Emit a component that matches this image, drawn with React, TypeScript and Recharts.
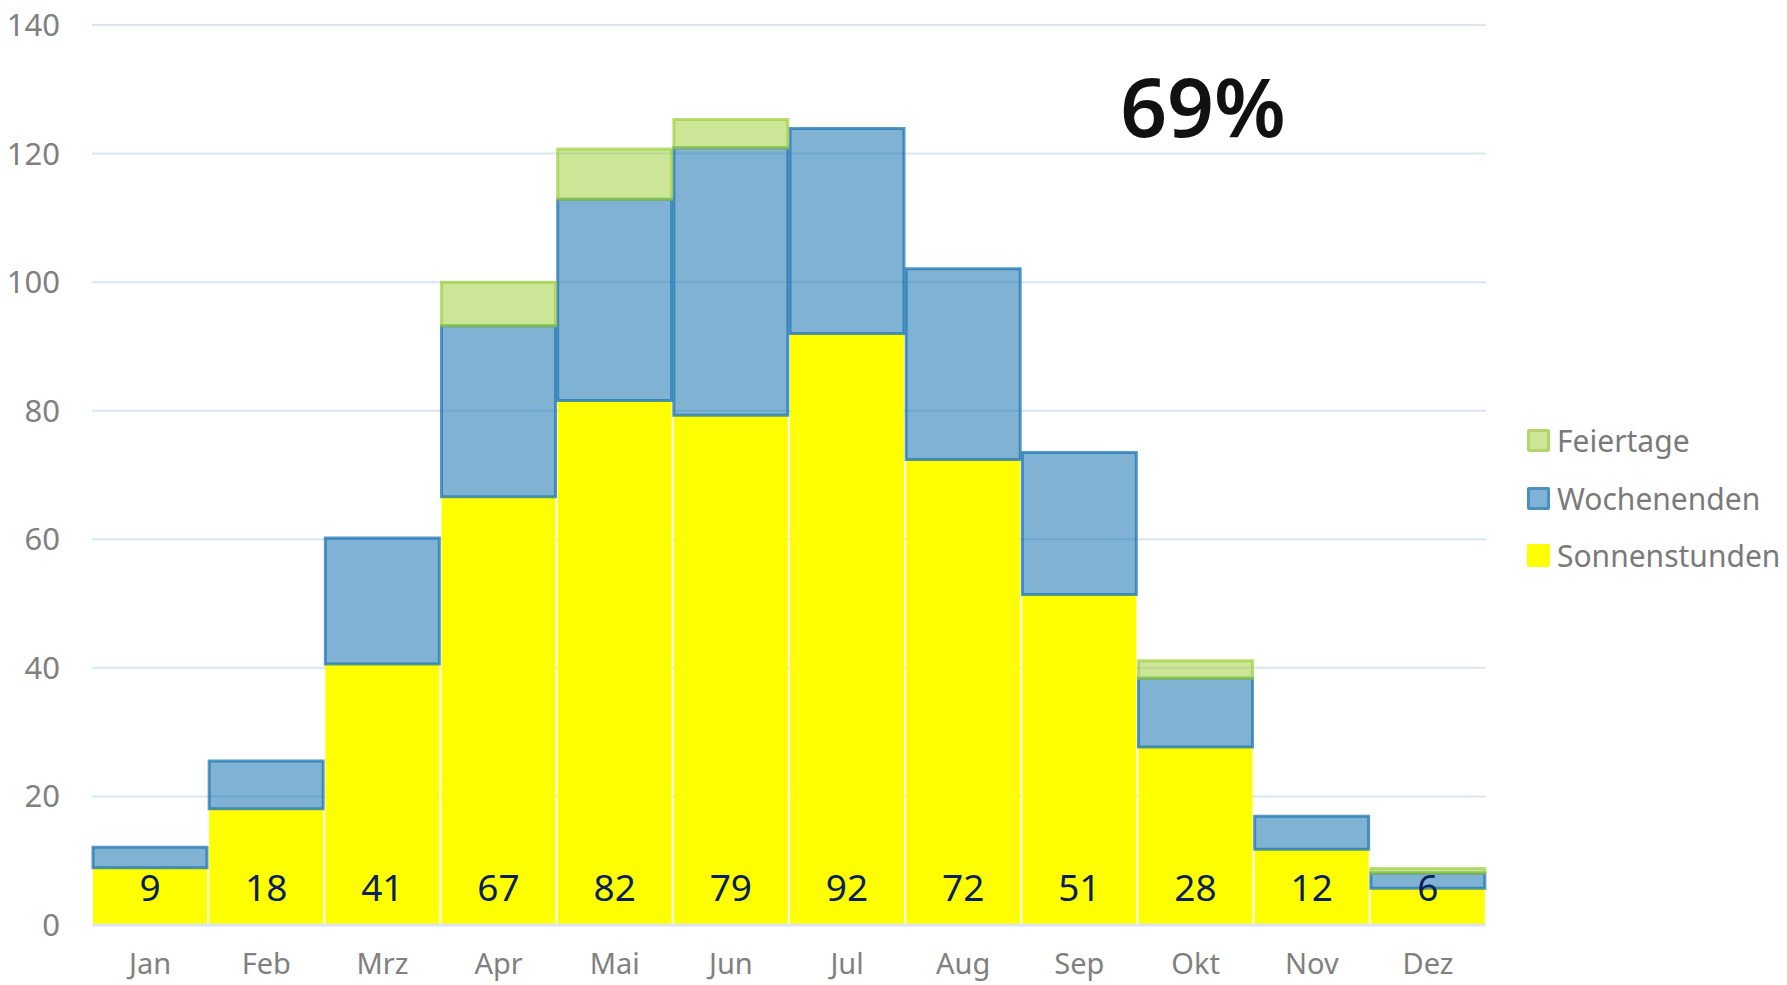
import { BarChart, Bar, XAxis, YAxis, CartesianGrid, LabelList } from "recharts";

document.body.style.margin = "0";

const months = ["Jan", "Feb", "Mrz", "Apr", "Mai", "Jun", "Jul", "Aug", "Sep", "Okt", "Nov", "Dez"];
const sonnenstunden = [8.9, 18.1, 40.6, 66.6, 81.6, 79.3, 92.0, 72.4, 51.4, 27.7, 11.8, 5.7];
const wochenenden = [3.2, 7.4, 19.6, 26.6, 31.3, 41.6, 31.9, 29.7, 22.1, 10.7, 5.1, 2.4];
const feiertage = [0, 0, 0, 6.8, 7.8, 4.4, 0, 0, 0, 2.7, 0, 0.7];
const yTicks = [0, 20, 40, 60, 80, 100, 120, 140];
const share = "69%";

const data = months.map((m, i) => ({
  month: m,
  sonne: sonnenstunden[i],
  woche: wochenenden[i],
  feier: feiertage[i],
}));

const FONT = "'Noto Sans', 'DejaVu Sans', sans-serif";

const legendItems = [
  { label: "Feiertage", fill: "#cce698", border: "#b3d46a" },
  { label: "Wochenenden", fill: "#7fb2d4", border: "#4a8fc2" },
  { label: "Sonnenstunden", fill: "#ffff00", border: "#ffff00" },
];

export default function App() {
  return (
    <div style={{ position: "relative", width: 1787, height: 985, fontFamily: FONT, background: "#fff" }}>
      <BarChart
        width={1787}
        height={985}
        data={data}
        margin={{ top: 25, right: 301, left: 0, bottom: 0 }}
        barCategoryGap={1}
        style={{ fontFamily: FONT }}
      >
        <CartesianGrid vertical={false} stroke="#d8e5f3" strokeWidth={2} />
        <XAxis
          dataKey="month"
          height={60}
          tickLine={false}
          tickSize={0}
          tickMargin={28}
          axisLine={{ stroke: "#dde4ee", strokeWidth: 3 }}
          tick={{ fill: "#808080", fontSize: 29 }}
        />
        <YAxis
          width={92}
          domain={[0, 140]}
          ticks={yTicks}
          axisLine={false}
          tickLine={false}
          tickSize={0}
          tickMargin={32}
          tick={{ fill: "#808080", fontSize: 31 }}
        />
        <Bar dataKey="sonne" name="Sonnenstunden" stackId="a" fill="#ffff00" isAnimationActive={false}>
          <LabelList
            dataKey="sonne"
            position="insideBottom"
            offset={24}
            formatter={(v: number) => Math.round(v)}
            style={{ fill: "#0b1f5c", fontSize: 37 }}
          />
        </Bar>
        <Bar
          dataKey="woche"
          name="Wochenenden"
          stackId="a"
          fill="rgba(31,119,180,0.57)"
          stroke="rgba(31,119,180,0.75)"
          strokeWidth={3}
          isAnimationActive={false}
        />
        <Bar
          dataKey="feier"
          name="Feiertage"
          stackId="a"
          fill="rgba(154,205,50,0.5)"
          stroke="rgba(154,205,50,0.65)"
          strokeWidth={3}
          isAnimationActive={false}
        />
      </BarChart>
      <div style={{ position: "absolute", left: 1527, top: 412, width: 260 }}>
        {legendItems.map((it) => (
          <div key={it.label} style={{ display: "flex", alignItems: "center", height: 57.5 }}>
            <span
              style={{
                display: "inline-block",
                width: 17,
                height: 17,
                background: it.fill,
                border: `3px solid ${it.border}`,
                borderRadius: 2,
              }}
            />
            <span style={{ marginLeft: 7, fontSize: 30, color: "#7a7a7a" }}>{it.label}</span>
          </div>
        ))}
      </div>
      <div
        style={{
          position: "absolute",
          left: 1103,
          top: 64,
          width: 200,
          textAlign: "center",
          fontSize: 82,
          lineHeight: 1,
          fontWeight: 600,
          color: "#111",
        }}
      >
        {share}
      </div>
    </div>
  );
}
